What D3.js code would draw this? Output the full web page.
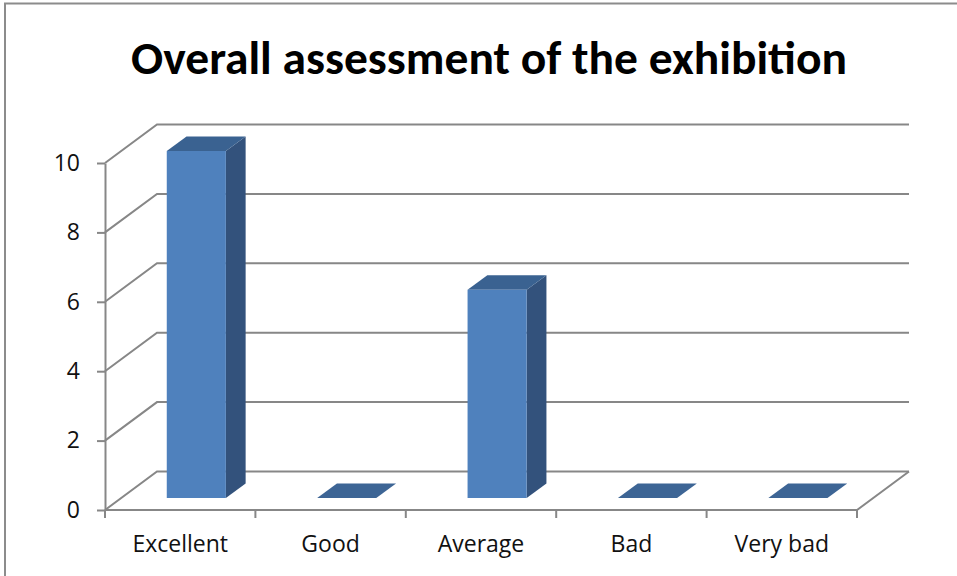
<!DOCTYPE html>
<html>
<head>
<meta charset="utf-8">
<script src="https://cdn.jsdelivr.net/npm/d3@7/dist/d3.min.js"></script>
<style>
  html, body { margin: 0; padding: 0; background: #fff; }
  svg { display: block; }
</style>
</head>
<body>
<svg id="chart" width="957" height="576"></svg>
<script>
// Survey results
const categories = ["Excellent", "Good", "Average", "Bad", "Very bad"];
const values = [10, 0, 6, 0, 0];
const yTicks = [0, 2, 4, 6, 8, 10];
const titleText = "Overall assessment of the exhibition";

const svg = d3.select("#chart");
const W = 957, H = 576;

// Front plane of the 3D box and its depth offset
const x0 = 105, x1 = 857;
const yBase = 510, yTop = 163;
const depthX = 52, depthY = -38.5;
// Fraction of depth taken by each column
const f0 = 0.31, f1 = 0.69;

const x = d3.scaleBand().domain(categories).range([x0, x1])
  .paddingInner(0.607).paddingOuter(0.3035);
const xCat = d3.scaleBand().domain(categories).range([x0, x1]).padding(0);
const y = d3.scaleLinear().domain([0, 10]).range([yBase, yTop]);

const proj = (px, v, f) => [px + f * depthX, y(v) + f * depthY];

const gridColor = "#878787";
const labelFont = "'Open Sans', Lato, sans-serif";
const labelSize = 23;

// Outer frame
svg.append("rect")
  .attr("x", 5).attr("y", 3.5)
  .attr("width", W + 20).attr("height", H + 20)
  .attr("fill", "none").attr("stroke", "#8c8c8c").attr("stroke-width", 2);

// Title
svg.append("text")
  .attr("x", 489).attr("y", 74)
  .attr("text-anchor", "middle")
  .attr("font-family", "Carlito, 'Liberation Sans Narrow', Lato, 'Open Sans', sans-serif")
  .attr("font-weight", "bold")
  .attr("font-size", 46)
  .attr("fill", "#000")
  .attr("textLength", 716).attr("lengthAdjust", "spacingAndGlyphs")
  .text(titleText);

// Gridlines: side wall diagonal + back wall horizontal
const grid = svg.append("g").attr("fill", "none").attr("stroke", gridColor).attr("stroke-width", 2);
grid.selectAll("path.grid").data(yTicks).join("path")
  .attr("class", "grid")
  .attr("d", t => d3.line()([proj(x0, t, 0), proj(x0, t, 1), proj(x1, t, 1)]));

// Floor front edge and right edge
grid.append("path").attr("d", d3.line()([proj(x0, 0, 0), proj(x1, 0, 0), proj(x1, 0, 1)]));

// Y axis
const yAxis = d3.axisLeft(y).tickValues(yTicks).tickSize(8).tickPadding(17).tickSizeOuter(0);
const gy = svg.append("g").attr("transform", `translate(${x0},0)`).call(yAxis);
gy.select(".domain").attr("stroke", gridColor).attr("stroke-width", 2);
gy.selectAll(".tick line").attr("stroke", gridColor).attr("stroke-width", 2);
gy.selectAll(".tick text")
  .attr("font-family", labelFont)
  .attr("font-size", labelSize).attr("fill", "#111");

// Category boundary ticks on the floor front edge
const bounds = categories.map(c => xCat(c)).concat([x1]);
svg.append("g").selectAll("line").data(bounds).join("line")
  .attr("x1", d => d).attr("x2", d => d)
  .attr("y1", yBase).attr("y2", yBase + 8)
  .attr("stroke", gridColor).attr("stroke-width", 2);

// Category labels
const xAxis = d3.axisBottom(xCat).tickSize(0).tickPadding(0);
const gx = svg.append("g").attr("transform", `translate(0,${yBase})`).call(xAxis);
gx.select(".domain").remove();
gx.selectAll(".tick text")
  .attr("dy", 0).attr("y", 42)
  .attr("font-family", labelFont)
  .attr("font-size", labelSize).attr("fill", "#111");

// Columns
const colFront = "#4f81bd", colTop = "#3a6291", colSide = "#33527c", colFlat = "#3d6595";
const bars = svg.append("g");
categories.forEach((c, i) => {
  const v = values[i];
  const xl = x(c), xr = x(c) + x.bandwidth();
  const g = bars.append("g");
  const poly = pts => g.append("path").attr("d", d3.line()(pts) + "Z");
  if (v > 0) {
    // right side face
    poly([proj(xr, 0, f0), proj(xr, v, f0), proj(xr, v, f1), proj(xr, 0, f1)]).attr("fill", colSide);
    // top face
    poly([proj(xl, v, f0), proj(xr, v, f0), proj(xr, v, f1), proj(xl, v, f1)]).attr("fill", colTop);
    // front face
    poly([proj(xl, 0, f0), proj(xr, 0, f0), proj(xr, v, f0), proj(xl, v, f0)]).attr("fill", colFront);
  } else {
    poly([proj(xl, 0, f0), proj(xr, 0, f0), proj(xr, 0, f1), proj(xl, 0, f1)]).attr("fill", colFlat);
  }
});
</script>
</body>
</html>
